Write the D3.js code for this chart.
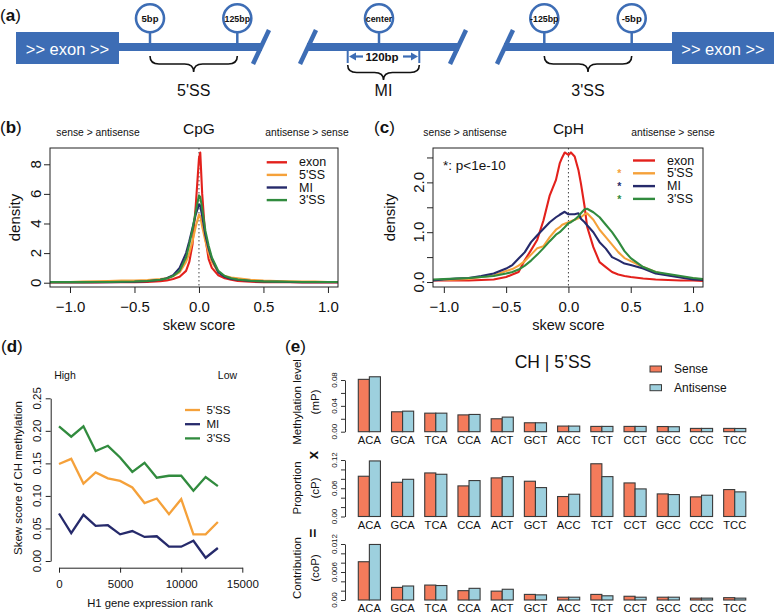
<!DOCTYPE html>
<html><head><meta charset="utf-8">
<script src="https://cdn.jsdelivr.net/npm/d3@7"></script>
<style>
body{margin:0;background:#fff}
svg{display:block}
text{font-family:"Liberation Sans",Arial,Helvetica,sans-serif;fill:#111}
</style>
</head><body>
<svg id="c" width="775" height="612"></svg>
<script>
// ---------------- DATA ----------------
// Panel (a) labels
const siteLabels5 = ["5bp", "125bp"];
const siteLabelsMI = ["center"];
const siteLabels3 = ["-125bp", "-5bp"];
const regionLabels = ["5'SS", "MI", "3'SS"];

// Series names / colours
const seriesNames = ["exon", "5'SS", "MI", "3'SS"];
const seriesColors = ["#e3211c", "#f5a13a", "#262a6b", "#318b3e"];

// Panel (b) CpG skew-score densities
const cpgX = [-1.16,-1.0,-0.9,-0.8,-0.7,-0.6,-0.5,-0.4,-0.3,-0.25,-0.2,-0.15,-0.1,-0.075,-0.05,-0.025,0,0.01,0.025,0.05,0.075,0.1,0.15,0.2,0.25,0.3,0.4,0.5,0.6,0.7,0.8,0.9,1.0,1.08];
const cpgExon = [0.02,0.02,0.02,0.02,0.03,0.03,0.03,0.05,0.1,0.15,0.25,0.4,0.8,1.4,2.6,5.2,8.4,8.8,6.0,3.0,1.6,1.0,0.5,0.3,0.2,0.12,0.06,0.04,0.03,0.03,0.02,0.02,0.02,0.02];
const cpg5SS  = [0.05,0.05,0.07,0.1,0.12,0.15,0.15,0.18,0.25,0.3,0.45,0.7,1.4,2.0,2.8,3.8,4.6,4.5,3.8,2.8,2.0,1.4,0.7,0.45,0.35,0.3,0.2,0.15,0.12,0.1,0.08,0.07,0.05,0.05];
const cpgMI   = [0.03,0.03,0.03,0.03,0.04,0.05,0.06,0.1,0.2,0.3,0.5,1.0,2.0,2.8,3.7,4.6,5.3,5.2,4.5,3.2,2.3,1.6,0.7,0.4,0.25,0.2,0.12,0.08,0.06,0.05,0.04,0.04,0.03,0.03];
const cpg3SS  = [0.04,0.04,0.04,0.05,0.05,0.06,0.08,0.12,0.2,0.28,0.45,0.8,1.7,2.6,3.6,4.8,5.9,5.8,5.0,3.5,2.5,1.7,0.8,0.45,0.3,0.22,0.13,0.09,0.07,0.06,0.05,0.05,0.05,0.05];
const cpgYTicks = [0, 2, 4, 6, 8];

// Panel (c) CpH skew-score densities
const cphX = [-1.09,-1.0,-0.9,-0.8,-0.7,-0.6,-0.5,-0.45,-0.4,-0.35,-0.3,-0.25,-0.2,-0.15,-0.1,-0.07,-0.05,-0.03,0,0.02,0.05,0.08,0.1,0.13,0.15,0.2,0.25,0.3,0.35,0.4,0.45,0.5,0.6,0.7,0.8,0.9,1.0,1.08];
const cphExon = [0.03,0.03,0.03,0.03,0.04,0.05,0.1,0.15,0.2,0.44,0.64,0.85,1.24,1.74,2.05,2.38,2.5,2.6,2.55,2.6,2.52,2.25,1.98,1.51,1.11,0.7,0.4,0.3,0.2,0.15,0.12,0.1,0.07,0.05,0.04,0.03,0.03,0.02];
const cph5SS  = [0.04,0.04,0.05,0.06,0.1,0.13,0.22,0.26,0.33,0.42,0.55,0.68,0.72,0.9,1.05,1.1,1.15,1.17,1.2,1.22,1.25,1.28,1.3,1.36,1.38,1.25,1.05,0.9,0.75,0.6,0.48,0.42,0.3,0.2,0.14,0.1,0.07,0.05];
const cphMI   = [0.03,0.05,0.07,0.08,0.12,0.17,0.27,0.34,0.47,0.6,0.8,0.94,1.07,1.2,1.3,1.35,1.38,1.41,1.36,1.36,1.36,1.38,1.27,1.2,1.14,1.0,0.8,0.67,0.5,0.44,0.37,0.34,0.27,0.17,0.13,0.09,0.05,0.04];
const cph3SS  = [0.05,0.06,0.07,0.08,0.1,0.12,0.17,0.2,0.25,0.33,0.43,0.55,0.68,0.82,0.95,1.0,1.05,1.1,1.18,1.2,1.25,1.32,1.38,1.46,1.47,1.4,1.3,1.15,1.0,0.82,0.62,0.48,0.3,0.2,0.16,0.12,0.08,0.06];
const cphYTicks = [0, 0.5, 1, 1.5, 2, 2.5];
const skewXTicks = [-1, -0.5, 0, 0.5, 1];

// Panel (d) skew score vs expression rank
const rankX = [0,1000,2000,3000,4000,5000,6000,7000,8000,9000,10000,11000,12000,13000];
const rank5SS = [0.149,0.157,0.119,0.136,0.127,0.123,0.113,0.089,0.096,0.072,0.095,0.041,0.041,0.060];
const rankMI  = [0.073,0.043,0.071,0.054,0.055,0.041,0.046,0.037,0.038,0.022,0.022,0.031,0.005,0.020];
const rank3SS = [0.207,0.191,0.207,0.169,0.177,0.159,0.137,0.151,0.128,0.131,0.131,0.108,0.129,0.115];
const rankXTicks = [0, 5000, 10000, 15000];
const rankYTicks = [0, 0.05, 0.10, 0.15, 0.20, 0.25];

// Panel (e) CH | 5'SS
const trinuc = ["ACA","GCA","TCA","CCA","ACT","GCT","ACC","TCT","CCT","GCC","CCC","TCC"];
const strands = ["Sense", "Antisense"];
const mPSense     = [0.081,0.0308,0.0287,0.026,0.020,0.0138,0.0087,0.0082,0.0082,0.0080,0.0051,0.0051];
const mPAntisense = [0.085,0.0318,0.0287,0.0267,0.0226,0.0138,0.0087,0.0082,0.0082,0.0077,0.0051,0.0050];
const cPSense     = [0.0855,0.0727,0.0925,0.065,0.082,0.0749,0.0424,0.112,0.0713,0.048,0.0417,0.0572];
const cPAntisense = [0.118,0.079,0.0897,0.0763,0.0847,0.0614,0.0473,0.0847,0.0586,0.0466,0.0452,0.0523];
const coPSense     = [0.0082,0.0027,0.0032,0.0020,0.0019,0.0012,0.0006,0.0012,0.0008,0.0006,0.0004,0.0005];
const coPAntisense = [0.0119,0.0030,0.0031,0.0025,0.0023,0.0011,0.0006,0.0009,0.0006,0.0006,0.0004,0.0004];
const mPTicks = [0,0.02,0.04,0.06,0.08], mPLabels = [0,0.04,0.08];
const cPTicks = [0,0.02,0.04,0.06,0.08,0.10,0.12], cPLabels = [0,0.06,0.12];
const coPTicks = [0,0.002,0.004,0.006,0.008,0.010,0.012], coPLabels = [0,0.006,0.012];
const barColors = ["#f47b5b", "#9dd0de"];

// ---------------- DRAWING ----------------
const svg = d3.select("#c");
const blue = "#3d6db5";

function T(g, x, y, s, size, o = {}) {
  const t = g.append("text").attr("x", x).attr("y", y).text(s)
    .attr("font-size", size).attr("text-anchor", o.anchor || "middle");
  if (o.weight) t.attr("font-weight", o.weight);
  if (o.fill) t.style("fill", o.fill);
  if (o.db) t.attr("dominant-baseline", o.db);
  return t;
}
function RT(g, x, y, s, size, o = {}) {
  const t = g.append("text").attr("transform", `translate(${x},${y}) rotate(-90)`)
    .text(s).attr("font-size", size).attr("text-anchor", "middle")
    .attr("dominant-baseline", "central");
  if (o.weight) t.attr("font-weight", o.weight);
  return t;
}
function panelLabel(x, y, letter) {
  const t = svg.append("text").attr("x", x).attr("y", y).attr("font-size", 17);
  t.append("tspan").text("(");
  t.append("tspan").attr("font-weight", "bold").text(letter);
  t.append("tspan").text(")");
}

// ---------- (a) diagram ----------
panelLabel(0, 21, "a");
const ga = svg.append("g");
[[16, 103], [672, 102]].forEach(([x, w]) => {
  ga.append("rect").attr("x", x).attr("y", 32).attr("width", w).attr("height", 32).attr("fill", blue);
  T(ga, x + w / 2, 54.5, ">> exon >>", 16.5, {fill: "#fff"});
});
[[119, 262], [307, 459], [504, 672]].forEach(([a, b]) =>
  ga.append("line").attr("x1", a).attr("x2", b).attr("y1", 47).attr("y2", 47)
    .attr("stroke", blue).attr("stroke-width", 8));
[253, 300, 450, 497].forEach(x =>
  ga.append("line").attr("x1", x).attr("y1", 64).attr("x2", x + 16).attr("y2", 30)
    .attr("stroke", blue).attr("stroke-width", 4.5));
const circles = [[150, siteLabels5[0]], [237.3, siteLabels5[1]], [379, siteLabelsMI[0]],
                 [544.3, siteLabels3[0]], [631.7, siteLabels3[1]]];
circles.forEach(([x, s]) => {
  ga.append("line").attr("x1", x).attr("x2", x).attr("y1", 32).attr("y2", 46)
    .attr("stroke", blue).attr("stroke-width", 2.5);
  ga.append("circle").attr("cx", x).attr("cy", 18.3).attr("r", 14)
    .attr("fill", "#fff").attr("stroke", blue).attr("stroke-width", 2.6);
  T(ga, x, 21.5, s, s.length > 4 ? 8.8 : 9.5, {weight: "bold"});
});
function brace(x1, x2, y0, h) {
  const m = (x1 + x2) / 2, r = 9, hm = y0 + h / 2;
  return `M${x1},${y0} Q${x1},${hm} ${x1 + r},${hm} L${m - r},${hm} Q${m},${hm} ${m},${y0 + h}` +
         ` Q${m},${hm} ${m + r},${hm} L${x2 - r},${hm} Q${x2},${hm} ${x2},${y0}`;
}
[[150, 237.3, 56, 16, regionLabels[0]], [347.7, 419.3, 65, 15, regionLabels[1]],
 [544.3, 631.7, 56, 16, regionLabels[2]]].forEach(([a, b, y0, h, s]) => {
  ga.append("path").attr("d", brace(a, b, y0, h)).attr("fill", "none")
    .attr("stroke", "#111").attr("stroke-width", 1.6);
  T(ga, (a + b) / 2, 96, s, 16);
});
[347.7, 419.3].forEach(x => ga.append("line").attr("x1", x).attr("x2", x).attr("y1", 50).attr("y2", 63)
  .attr("stroke", blue).attr("stroke-width", 2));
ga.append("line").attr("x1", 363).attr("x2", 353).attr("y1", 56.5).attr("y2", 56.5).attr("stroke", blue).attr("stroke-width", 2.2);
ga.append("path").attr("d", "M349,56.5 L356,52.5 L356,60.5 Z").attr("fill", blue);
ga.append("line").attr("x1", 403).attr("x2", 413).attr("y1", 56.5).attr("y2", 56.5).attr("stroke", blue).attr("stroke-width", 2.2);
ga.append("path").attr("d", "M418,56.5 L411,52.5 L411,60.5 Z").attr("fill", blue);
T(ga, 382, 61, "120bp", 11.5, {weight: "bold"});

// ---------- density panels ----------
function densityPanel(cfg) {
  const g = svg.append("g");
  const x = d3.scaleLinear().domain(cfg.xd).range([cfg.L, cfg.R]);
  const y = d3.scaleLinear().domain(cfg.yd).range([cfg.B, cfg.Tp]);
  const cid = "clip" + cfg.id;
  svg.append("clipPath").attr("id", cid).append("rect")
    .attr("x", cfg.L).attr("y", cfg.Tp).attr("width", cfg.R - cfg.L).attr("height", cfg.B - cfg.Tp);
  g.append("line").attr("x1", x(0)).attr("x2", x(0)).attr("y1", cfg.Tp).attr("y2", cfg.B)
    .attr("stroke", "#444").attr("stroke-width", 1).attr("stroke-dasharray", "1.5,2.5");
  const line = d3.line().x(d => x(d[0])).y(d => y(d[1]));
  [0, 1, 2, 3].forEach(i => {
    g.append("path").datum(cfg.xs.map((v, k) => [v, cfg.series[i][k]]))
      .attr("d", line).attr("fill", "none").attr("stroke", seriesColors[i])
      .attr("stroke-width", 2.1).attr("stroke-linejoin", "round")
      .attr("clip-path", `url(#${cid})`);
  });
  g.append("rect").attr("x", cfg.L).attr("y", cfg.Tp).attr("width", cfg.R - cfg.L)
    .attr("height", cfg.B - cfg.Tp).attr("fill", "none").attr("stroke", "#222").attr("stroke-width", 1);
  const ax = g.append("g").attr("transform", `translate(0,${cfg.B})`)
    .call(d3.axisBottom(x).tickValues(skewXTicks).tickSize(6).tickFormat(d => d3.format(".1f")(d).replace("-", "\u2212")));
  ax.select(".domain").remove();
  ax.selectAll("text").attr("font-size", 15).attr("dy", "1.05em").style("font-family", null);
  ax.selectAll("line").attr("stroke", "#222");
  const ay = g.append("g").attr("transform", `translate(${cfg.L},0)`)
    .call(d3.axisLeft(y).tickValues(cfg.yticks).tickSize(6).tickFormat(""));
  ay.select(".domain").remove();
  ay.selectAll("line").attr("stroke", "#222");
  cfg.ylabels.forEach(v => RT(g, cfg.L - 15, y(v), cfg.yfmt(v), 15));
  T(g, x(0), 134, cfg.title, 15.5);
  T(g, cfg.sl, 136, "sense > antisense", 10.3);
  T(g, cfg.sr, 136, "antisense > sense", 10.3);
  T(g, x(0), 330, "skew score", 14.5);
  RT(g, cfg.dx, (cfg.Tp + cfg.B) / 2, "density", 15);
  seriesNames.forEach((s, i) => {
    const ly = cfg.ly0 + i * cfg.ldy;
    g.append("line").attr("x1", cfg.lx1).attr("x2", cfg.lx2).attr("y1", ly).attr("y2", ly)
      .attr("stroke", seriesColors[i]).attr("stroke-width", 2.4);
    T(g, cfg.lt, ly, s, 12.5, {anchor: "start", db: "central"});
    if (cfg.stars && i > 0) T(g, cfg.stars, ly + 4, "*", 10.5, {fill: seriesColors[i], weight: "bold"});
  });
  return g;
}
panelLabel(0, 133, "b");
densityPanel({id: "b", L: 50, R: 338, Tp: 148, B: 287, xd: [-1.155, 1.078], yd: [-0.29, 9.1],
  xs: cpgX, series: [cpgExon, cpg5SS, cpgMI, cpg3SS], yticks: cpgYTicks, ylabels: cpgYTicks,
  yfmt: d => String(d), title: "CpG", sl: 98, sr: 307, dx: 14,
  lx1: 266.7, lx2: 287, lt: 299, ly0: 162.3, ldy: 12.6});
panelLabel(374, 133, "c");
const gc = densityPanel({id: "c", L: 433, R: 703, Tp: 148, B: 287, xd: [-1.087, 1.080], yd: [-0.1, 2.69],
  xs: cphX, series: [cphExon, cph5SS, cphMI, cph3SS], yticks: cphYTicks, ylabels: [0, 1, 2],
  yfmt: d => d3.format(".1f")(d), title: "CpH", sl: 465, sr: 673, dx: 389,
  lx1: 633, lx2: 655, lt: 667, ly0: 160.5, ldy: 12.8, stars: 619.3});
T(gc, 443, 169.5, "*: p<1e-10", 13.5, {anchor: "start"});

// ---------- (d) ----------
panelLabel(1, 352, "d");
const gd = svg.append("g");
const xd = d3.scaleLinear().domain([0, 15000]).range([59, 242.3]);
const yd = d3.scaleLinear().domain([0, 0.25]).range([561, 398.3]);
const axd = gd.append("g").attr("transform", "translate(0,567.7)")
  .call(d3.axisBottom(xd).tickValues(rankXTicks).tickSize(5).tickSizeOuter(0).tickFormat(d3.format("d")));
axd.selectAll("text").attr("font-size", 11.5).attr("dy", "1.05em").style("font-family", null);
axd.selectAll("line,path").attr("stroke", "#222");
const ayd = gd.append("g").attr("transform", "translate(50.7,0)")
  .call(d3.axisLeft(yd).tickValues(rankYTicks).tickSize(5).tickSizeOuter(0).tickFormat(""));
ayd.selectAll("line,path").attr("stroke", "#222");
rankYTicks.forEach(v => RT(gd, 37, yd(v), d3.format(".2f")(v), 11.5));
const lined = d3.line().x((d, i) => xd(rankX[i])).y(d => yd(d));
[[rank5SS, 1], [rankMI, 2], [rank3SS, 3]].forEach(([arr, ci]) =>
  gd.append("path").datum(arr).attr("d", lined).attr("fill", "none")
    .attr("stroke", seriesColors[ci]).attr("stroke-width", 2.3).attr("stroke-linejoin", "miter"));
T(gd, 150, 607, "H1 gene expression rank", 11.3);
RT(gd, 18, 478, "Skew score of CH methylation", 11.5);
T(gd, 65, 379, "High", 10.5);
T(gd, 227.5, 379, "Low", 10.5);
[1, 2, 3].forEach((ci, i) => {
  const ly = 410 + i * 14.2;
  gd.append("line").attr("x1", 185).attr("x2", 200).attr("y1", ly).attr("y2", ly)
    .attr("stroke", seriesColors[ci]).attr("stroke-width", 2.3);
  T(gd, 206.5, ly, seriesNames[ci], 11.5, {anchor: "start", db: "central"});
});

// ---------- (e) ----------
panelLabel(285, 352, "e");
const ge = svg.append("g");
const xe = d3.scaleBand().domain(trinuc).range([358.3, 745.8]).paddingInner(1 / 3).paddingOuter(0);
const xs = d3.scaleBand().domain(strands).range([0, xe.bandwidth()]);
const panelsE = [
  {s: mPSense, a: mPAntisense, y0: 431.7, y1: 380, top: 0.08, ticks: mPTicks, labels: mPLabels, fmt: ".2f", lab: 444},
  {s: cPSense, a: cPAntisense, y0: 516.5, y1: 460, top: 0.12, ticks: cPTicks, labels: cPLabels, fmt: ".2f", lab: 528.5},
  {s: coPSense, a: coPAntisense, y0: 600, y1: 544, top: 0.012, ticks: coPTicks, labels: coPLabels, fmt: ".3f", lab: 611.5}
];
panelsE.forEach(p => {
  const y = d3.scaleLinear().domain([0, p.top]).range([p.y0, p.y1]);
  trinuc.forEach((c, i) => {
    [p.s[i], p.a[i]].forEach((v, j) => {
      ge.append("rect").attr("x", xe(c) + xs(strands[j])).attr("width", xs.bandwidth())
        .attr("y", y(v)).attr("height", p.y0 - y(v))
        .attr("fill", barColors[j]).attr("stroke", "#3a3a3a").attr("stroke-width", 1.1);
    });
    T(ge, xe(c) + xe.bandwidth() / 2, p.lab, c, 11.2);
  });
  const ay = ge.append("g").attr("transform", "translate(345,0)")
    .call(d3.axisLeft(y).tickValues(p.ticks).tickSize(4).tickSizeOuter(0).tickFormat(""));
  ay.selectAll("line,path").attr("stroke", "#333");
  p.labels.forEach(v => RT(ge, 334, y(v), v === 0 ? "0.00" : d3.format(p.fmt)(v), 8));
});
[["Methylation level", "(mP)", 402], ["Proportion", "(cP)", 488], ["Contribution", "(coP)", 568]]
  .forEach(([a, b, yc]) => { RT(ge, 297, yc, a, 11.5); RT(ge, 315, yc, b, 11.5); });
RT(ge, 312.5, 455, "x", 15, {weight: "bold"});
RT(ge, 312.5, 533, "=", 15, {weight: "bold"});
T(ge, 553, 368, "CH | 5\u2019SS", 17.5);
strands.forEach((s, j) => {
  const ly = 369 + j * 18.7;
  ge.append("rect").attr("x", 650).attr("y", ly - 3).attr("width", 11.5).attr("height", 6)
    .attr("fill", barColors[j]).attr("stroke", "#3a3a3a").attr("stroke-width", 1);
  T(ge, 674, ly, s, 12, {anchor: "start", db: "central"});
});
</script>
</body></html>
